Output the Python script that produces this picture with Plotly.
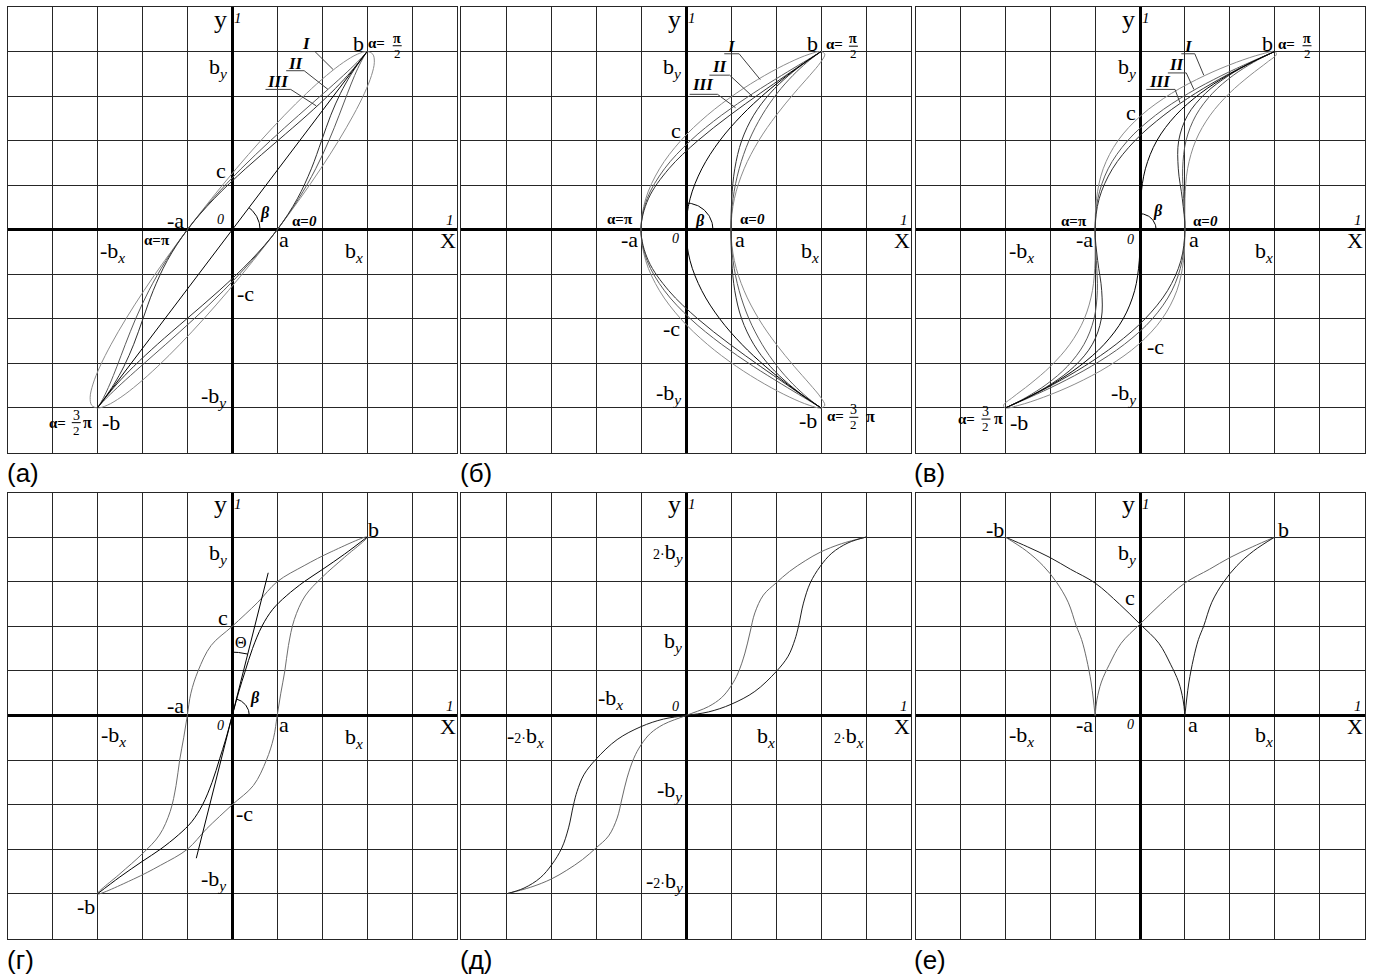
import numpy as np
import plotly.graph_objects as go

W, H = 1374, 980
SERIF = "Liberation Serif"
SANS = "Liberation Sans"
GRID = "#262626"

# page-pixel frames of the six grids: left, right, top, bottom
FRAMES = [
    (7.5, 457.0, 7.0, 452.5),
    (461.0, 911.0, 7.0, 452.5),
    (915.5, 1364.5, 7.0, 452.5),
    (7.5, 457.0, 492.5, 938.5),
    (461.0, 911.0, 492.5, 938.5),
    (915.5, 1364.5, 492.5, 938.5),
]
PANEL_TAGS = ["(а)", "(б)", "(в)", "(г)", "(д)", "(е)"]

# ---------------------------------------------------------------- data
# every coordinate is in grid cells; each axis runs from -5 to 5 cells

# ordinates of the loop points of panels а, б, в (-b -> a -> b -> -a -> -b)
LOOP_Y = [-4, -3.939, -3.759, -3.464, -3.064, -2.571, -2, -1.368, -0.695, 0,
          0.695, 1.368, 2, 2.571, 3.064, 3.464, 3.759, 3.939, 4,
          3.939, 3.759, 3.464, 3.064, 2.571, 2, 1.368, 0.695, 0,
          -0.695, -1.368, -2, -2.571, -3.064, -3.464, -3.759, -3.939, -4]
# ordinates of the middle curves of panels б, в (-b -> 0 -> b)
CENTER_Y = [-4, -3.939, -3.759, -3.464, -3.064, -2.571, -2, -1.368, -0.695, 0,
            0.695, 1.368, 2, 2.571, 3.064, 3.464, 3.759, 3.939, 4]

# panel (а)
A_LOOP_I = [-3.0, -2.78, -2.477, -2.098, -1.655, -1.162, -0.634, -0.086, 0.464,
            1.0, 1.506, 1.966, 2.366, 2.694, 2.941, 3.098, 3.161, 3.128, 3.0,
            2.78, 2.477, 2.098, 1.655, 1.162, 0.634, 0.086, -0.464, -1.0,
            -1.506, -1.966, -2.366, -2.694, -2.941, -3.098, -3.161, -3.128, -3.0]
A_LOOP_II = [-3.0, -2.949, -2.779, -2.473, -2.032, -1.478, -0.85, -0.196, 0.434,
             1.0, 1.476, 1.856, 2.15, 2.378, 2.564, 2.723, 2.859, 2.959, 3.0,
             2.949, 2.779, 2.473, 2.032, 1.478, 0.85, 0.196, -0.434, -1.0,
             -1.476, -1.856, -2.15, -2.378, -2.564, -2.723, -2.859, -2.959, -3.0]
A_LOOP_III = [-3.0, -2.954, -2.814, -2.567, -2.188, -1.664, -1.013, -0.293, 0.405,
              1.0, 1.447, 1.759, 1.987, 2.192, 2.408, 2.629, 2.824, 2.954, 3.0,
              2.954, 2.814, 2.567, 2.188, 1.664, 1.013, 0.293, -0.405, -1.0,
              -1.447, -1.759, -1.987, -2.192, -2.408, -2.629, -2.824, -2.954, -3.0]
A_CENTER_X = [-3.0, 3.0]
A_CENTER_Y = [-4.0, 4.0]

# panel (б)
B_LOOP_I = [3.0, 3.084, 2.991, 2.75, 2.403, 2.006, 1.616, 1.291, 1.075,
            1.0, 1.075, 1.291, 1.616, 2.006, 2.403, 2.75, 2.991, 3.084, 3.0,
            2.736, 2.307, 1.75, 1.117, 0.474, -0.116, -0.589, -0.895, -1.0,
            -0.895, -0.589, -0.116, 0.474, 1.117, 1.75, 2.307, 2.736, 3.0]
B_LOOP_II = [3.0, 2.915, 2.689, 2.375, 2.026, 1.69, 1.4, 1.181, 1.045,
             1.0, 1.045, 1.181, 1.4, 1.69, 2.026, 2.375, 2.689, 2.915, 3.0,
             2.905, 2.609, 2.125, 1.494, 0.79, 0.1, -0.479, -0.865, -1.0,
             -0.865, -0.479, 0.1, 0.79, 1.494, 2.125, 2.609, 2.905, 3.0]
B_LOOP_III = [3.0, 2.91, 2.654, 2.281, 1.87, 1.504, 1.237, 1.084, 1.016,
              1.0, 1.016, 1.084, 1.237, 1.504, 1.87, 2.281, 2.654, 2.91, 3.0,
              2.91, 2.644, 2.219, 1.65, 0.976, 0.263, -0.382, -0.836, -1.0,
              -0.836, -0.382, 0.263, 0.976, 1.65, 2.219, 2.644, 2.91, 3.0]
B_CENTER_X = [3, 2.91, 2.649, 2.25, 1.76, 1.24, 0.75, 0.351, 0.09, 0,
              0.09, 0.351, 0.75, 1.24, 1.76, 2.25, 2.649, 2.91, 3]

# panel (в)
V_LOOP_I = [-3.0, -2.691, -2.147, -1.449, -0.706, -0.031, 0.491, 0.82, 0.969,
            1.0, 1.001, 1.06, 1.241, 1.563, 1.992, 2.449, 2.831, 3.039, 3.0,
            2.691, 2.147, 1.449, 0.706, 0.031, -0.491, -0.82, -0.969, -1.0,
            -1.001, -1.06, -1.241, -1.563, -1.992, -2.449, -2.831, -3.039, -3.0]
V_LOOP_II = [-3.0, -2.86, -2.449, -1.824, -1.083, -0.347, 0.275, 0.71, 0.939,
             1.0, 0.971, 0.95, 1.025, 1.247, 1.615, 2.074, 2.529, 2.87, 3.0,
             2.86, 2.449, 1.824, 1.083, 0.347, -0.275, -0.71, -0.939, -1.0,
             -0.971, -0.95, -1.025, -1.247, -1.615, -2.074, -2.529, -2.87, -3.0]
V_LOOP_III = [-3.0, -2.865, -2.484, -1.918, -1.239, -0.533, 0.112, 0.613, 0.91,
              1.0, 0.942, 0.853, 0.862, 1.061, 1.459, 1.98, 2.494, 2.865, 3.0,
              2.865, 2.484, 1.918, 1.239, 0.533, -0.112, -0.613, -0.91, -1.0,
              -0.942, -0.853, -0.862, -1.061, -1.459, -1.98, -2.494, -2.865, -3.0]
V_CENTER_X = [-3, -2.865, -2.489, -1.949, -1.349, -0.797, -0.375, -0.12, -0.016, 0,
              0.016, 0.12, 0.375, 0.797, 1.349, 1.949, 2.489, 2.865, 3]

# panel (г)
G_LOOP_X = [-3, -2.2, -1.6, -1.0, -0.57, 0, 0.47, 0.76, 0.92, 1, 1.08, 1.17, 1.25,
            1.38, 1.62, 2.0, 2.5, 3,
            2.2, 1.6, 1.0, 0.57, 0, -0.47, -0.76, -0.92, -1, -1.08, -1.17, -1.25,
            -1.38, -1.62, -2.0, -2.5, -3]
G_LOOP_Y = [-4, -3.67, -3.36, -3.0, -2.54, -2.0, -1.57, -1.0, -0.5, 0, 0.5, 1.0, 1.57,
            2.15, 2.68, 3.1, 3.55, 4,
            3.67, 3.36, 3.0, 2.54, 2.0, 1.57, 1.0, 0.5, 0, -0.5, -1.0, -1.57,
            -2.15, -2.68, -3.1, -3.55, -4]
G_CENTER_X = [-3, -2.5, -2.0, -1.6, -1.2, -0.9, -0.66, -0.45, -0.28, -0.15, 0,
              0.15, 0.28, 0.45, 0.66, 0.9, 1.2, 1.6, 2.0, 2.5, 3]
G_CENTER_Y = [-4, -3.62, -3.27, -3.0, -2.68, -2.38, -2.0, -1.5, -0.97, -0.55, 0,
              0.55, 0.97, 1.5, 2.0, 2.38, 2.68, 3.0, 3.27, 3.62, 4]
G_TANGENT_X = [-0.8, 0.8]
G_TANGENT_Y = [-3.2, 3.2]

# panel (д)
D_S1_X = [-4.0, -3.45, -3.0, -2.65, -2.3, -2.0, -1.72, -1.53, -1.42, -1.31, -1.16, -1.0,
          -0.79, -0.5, 0, 0.5, 0.79, 1.0, 1.16, 1.31, 1.42, 1.53, 1.72, 2.0, 2.3,
          2.65, 3.0, 3.45, 4.0]
D_S1_Y = [-4.0, -3.85, -3.67, -3.47, -3.23, -2.97, -2.7, -2.3, -1.85, -1.4, -0.96, -0.66,
          -0.4, -0.2, 0, 0.2, 0.4, 0.66, 0.96, 1.4, 1.85, 2.3, 2.7, 2.97, 3.23,
          3.47, 3.67, 3.85, 4.0]
D_S2_X = [-4.0, -3.6, -3.24, -2.98, -2.76, -2.61, -2.5, -2.42, -2.27, -2.0, -1.53, -1.0,
          -0.5, 0, 0.5, 1.0, 1.53, 2.0, 2.27, 2.42, 2.5, 2.61, 2.76, 2.98, 3.24,
          3.6, 4.0]
D_S2_Y = [-4.0, -3.87, -3.64, -3.34, -2.97, -2.52, -2.0, -1.7, -1.33, -0.98, -0.54, -0.25,
          -0.08, 0, 0.08, 0.25, 0.54, 0.98, 1.33, 1.7, 2.0, 2.52, 2.97, 3.34, 3.64,
          3.87, 4.0]

# panel (е)
E_P_X = [-1, -0.96, -0.86, -0.68, -0.42, 0, 0.46, 1.0, 1.55, 2.0, 2.5, 3.0]
E_P_Y = [0, 0.35, 0.75, 1.15, 1.62, 2.05, 2.5, 2.97, 3.28, 3.54, 3.78, 4.0]
E_P2_X = [1, 0.96, 0.86, 0.68, 0.42, 0, -0.46, -1.0, -1.55, -2.0, -2.5, -3.0]
E_Q_X = [1, 1.04, 1.09, 1.19, 1.3, 1.42, 1.6, 1.86, 2.16, 2.53, 3.0]
E_Q_Y = [0, 0.37, 0.75, 1.27, 1.7, 2.01, 2.54, 2.99, 3.36, 3.69, 4.0]
E_Q2_X = [-1, -1.04, -1.09, -1.19, -1.3, -1.42, -1.6, -1.86, -2.16, -2.53, -3.0]

LOOP_COLORS = {"I": "#8c8c8c", "II": "#5a5a5a", "III": "#303030"}

# ---------------------------------------------------------------- helpers
fig = go.Figure()
annotations = []
shapes = []


def ref(i):
    return "" if i == 0 else str(i + 1)


def curve(i, xs, ys, color, width=1.0, spline=True):
    k = ref(i)
    fig.add_trace(go.Scatter(
        x=xs, y=ys, mode="lines", xaxis="x" + k, yaxis="y" + k,
        line=dict(color=color, width=width,
                  shape="spline" if spline else "linear", smoothing=1.0),
        hoverinfo="skip", showlegend=False))


def note(i, x, y, text, size=22, style="normal", weight="normal"):
    k = ref(i)
    annotations.append(dict(
        x=x, y=y, xref="x" + k, yref="y" + k, text=text, showarrow=False,
        xanchor="center", yanchor="middle",
        font=dict(family=SERIF, size=size, color="black",
                  style=style, weight=weight)))


def bar(i, x0, x1, y):
    k = ref(i)
    shapes.append(dict(type="line", xref="x" + k, yref="y" + k,
                       x0=x0, x1=x1, y0=y, y1=y,
                       line=dict(color="black", width=1)))


def frac(i, x, y, num, den, num_weight="normal"):
    note(i, x, y + 0.17, num, 14, weight=num_weight)
    note(i, x, y - 0.17, den, 13)
    bar(i, x - 0.1, x + 0.1, y)


def angle_arc(i, r, a0, a1):
    t = np.radians(np.linspace(a0, a1, 40))
    curve(i, r * np.cos(t), r * np.sin(t), "black", 1.0, spline=False)


def sub(base, s):
    return f"{base}<sub><i>{s}</i></sub>"


def alpha(i, x, y, text):
    note(i, x, y, text, 15, weight="bold")


def beta(i, x, y):
    note(i, x, y, "β", 16, style="italic", weight="bold")


def zero(i, x, y):
    note(i, x, y, "0", 14, style="italic")


# ---------------------------------------------------------------- curves
for name, xs in (("I", A_LOOP_I), ("II", A_LOOP_II), ("III", A_LOOP_III)):
    curve(0, xs, LOOP_Y, LOOP_COLORS[name])
curve(0, A_CENTER_X, A_CENTER_Y, "black", spline=False)

for name, xs in (("I", B_LOOP_I), ("II", B_LOOP_II), ("III", B_LOOP_III)):
    curve(1, xs, LOOP_Y, LOOP_COLORS[name])
curve(1, B_CENTER_X, CENTER_Y, "black")

for name, xs in (("I", V_LOOP_I), ("II", V_LOOP_II), ("III", V_LOOP_III)):
    curve(2, xs, LOOP_Y, LOOP_COLORS[name])
curve(2, V_CENTER_X, CENTER_Y, "black")

curve(3, G_LOOP_X, G_LOOP_Y, "#6e6e6e")
curve(3, G_CENTER_X, G_CENTER_Y, "black")
curve(3, G_TANGENT_X, G_TANGENT_Y, "black", spline=False)

curve(4, D_S1_X, D_S1_Y, "#6a6a6a")
curve(4, D_S2_X, D_S2_Y, "#1e1e1e")

curve(5, E_P_X, E_P_Y, "#6a6a6a")
curve(5, E_P2_X, E_P_Y, "#1e1e1e")
curve(5, E_Q_X, E_Q_Y, "#1e1e1e")
curve(5, E_Q2_X, E_Q_Y, "#6a6a6a")

# angle marks
angle_arc(0, 0.62, 0, 53.1)
angle_arc(1, 0.6, 0, 90)
angle_arc(2, 0.36, 0, 90)
angle_arc(3, 0.38, 0, 76)
angle_arc(3, 1.42, 76, 90)

# loop numbers with their leaders
ROMAN = {
    0: [("I", 1.66, 4.18, [1.50, 1.84, 2.24], [4.0, 4.0, 3.6]),
        ("II", 1.42, 3.74, [1.20, 1.60, 2.13], [3.57, 3.57, 3.15]),
        ("III", 1.02, 3.33, [0.74, 1.30, 1.87], [3.15, 3.15, 2.78])],
    1: [("I", 1.02, 4.11, [0.85, 1.18, 1.65], [3.95, 3.95, 3.37]),
        ("II", 0.76, 3.66, [0.52, 0.97, 1.47], [3.47, 3.47, 3.0]),
        ("III", 0.38, 3.25, [0.08, 0.70, 1.10], [3.04, 3.04, 2.74])],
    2: [("I", 1.09, 4.11, [0.92, 1.22, 1.42], [3.95, 3.95, 3.47]),
        ("II", 0.83, 3.70, [0.62, 1.03, 1.20], [3.52, 3.52, 3.15]),
        ("III", 0.45, 3.33, [0.14, 0.78, 0.89], [3.15, 3.15, 2.85])],
}
for i, items in ROMAN.items():
    for label, tx, ty, lx, ly in items:
        note(i, tx, ty, label, 17, style="italic", weight="bold")
        curve(i, lx, ly, "#404040", 1.0, spline=False)

# ---------------------------------------------------------------- labels
for i in range(6):
    note(i, -0.26, 4.72, "y", 26)
    note(i, 0.13, 4.75, "1", 15, style="italic")
    note(i, 4.85, 0.22, "1", 15, style="italic")
    note(i, 4.79, -0.25, "X", 22)

# (а)
note(0, 2.8, 4.19, "b")
note(0, -0.31, 3.62, sub("b", "y"))
note(0, -0.25, 1.32, "c")
note(0, -1.27, 0.2, "-a")
zero(0, -0.26, 0.24)
note(0, 1.16, -0.23, "a")
note(0, 2.71, -0.49, sub("b", "x"))
note(0, -2.66, -0.49, sub("-b", "x"))
note(0, 0.3, -1.43, "-c")
note(0, -0.41, -3.75, sub("-b", "y"))
note(0, -2.7, -4.33, "-b")
beta(0, 0.73, 0.37)
alpha(0, 1.61, 0.2, "α=<i>0</i>")
alpha(0, -1.68, -0.23, "α=π")
alpha(0, 3.21, 4.19, "α=")
frac(0, 3.67, 4.13, "π", "2", "bold")
alpha(0, -3.89, -4.33, "α=")
frac(0, -3.47, -4.33, "3", "2")
note(0, -3.22, -4.33, "π", 16, weight="bold")

# (б)
note(1, 2.8, 4.19, "b")
alpha(1, 3.3, 4.17, "α=")
frac(1, 3.72, 4.12, "π", "2", "bold")
note(1, -0.31, 3.62, sub("b", "y"))
note(1, -0.22, 2.23, "c")
alpha(1, -1.46, 0.24, "α=π")
note(1, -1.26, -0.23, "-a")
zero(1, -0.24, -0.19)
beta(1, 0.3, 0.2)
alpha(1, 1.47, 0.24, "α=<i>0</i>")
note(1, 1.21, -0.23, "a")
note(1, 2.75, -0.49, sub("b", "x"))
note(1, -0.33, -2.22, "-c")
note(1, -0.39, -3.68, sub("-b", "y"))
note(1, 2.71, -4.29, "-b")
alpha(1, 3.32, -4.19, "α=")
frac(1, 3.73, -4.21, "3", "2")
note(1, 4.1, -4.19, "π", 16, weight="bold")

# (в)
note(2, 2.83, 4.19, "b")
alpha(2, 3.27, 4.17, "α=")
frac(2, 3.72, 4.13, "π", "2", "bold")
note(2, -0.3, 3.62, sub("b", "y"))
note(2, -0.21, 2.63, "c")
alpha(2, -1.47, 0.2, "α=π")
note(2, -2.65, -0.49, sub("-b", "x"))
note(2, -1.24, -0.23, "-a")
zero(2, -0.21, -0.23)
beta(2, 0.39, 0.43)
alpha(2, 1.46, 0.2, "α=<i>0</i>")
note(2, 1.2, -0.23, "a")
note(2, 2.76, -0.49, sub("b", "x"))
note(2, 0.35, -2.63, "-c")
note(2, -0.36, -3.68, sub("-b", "y"))
alpha(2, -3.87, -4.24, "α=")
frac(2, -3.43, -4.25, "3", "2")
note(2, -3.16, -4.24, "π", 16, weight="bold")
note(2, -2.69, -4.33, "-b")

# (г)
note(3, 3.15, 4.16, "b")
note(3, -0.31, 3.62, sub("b", "y"))
note(3, -0.21, 2.2, "c")
note(3, 0.19, 1.64, "Θ", 16)
note(3, -1.26, 0.22, "-a")
beta(3, 0.5, 0.39)
zero(3, -0.27, -0.22)
note(3, 1.15, -0.21, "a")
note(3, -2.64, -0.46, sub("-b", "x"))
note(3, 2.71, -0.5, sub("b", "x"))
note(3, 0.28, -2.2, "-c")
note(3, -0.42, -3.69, sub("-b", "y"))
note(3, -3.25, -4.29, "-b")

# (д)
TWO = "<span style='font-size:14px'>2·</span>"
note(4, -0.4, 3.64, TWO + sub("b", "y"))
note(4, -0.28, 1.64, sub("b", "y"))
note(4, -1.67, 0.36, sub("-b", "x"))
zero(4, -0.23, 0.21)
note(4, -3.56, -0.48, "-" + TWO + sub("b", "x"))
note(4, 1.77, -0.48, sub("b", "x"))
note(4, 3.62, -0.48, TWO + sub("b", "x"))
note(4, -0.36, -1.69, sub("-b", "y"))
note(4, -0.48, -3.73, "-" + TWO + sub("b", "y"))

# (е)
note(5, -3.24, 4.18, "-b")
note(5, 3.19, 4.18, "b")
note(5, -0.28, 3.62, sub("b", "y"))
note(5, -0.23, 2.65, "c")
note(5, -2.63, -0.46, sub("-b", "x"))
note(5, -1.24, -0.21, "-a")
zero(5, -0.21, -0.21)
note(5, 1.19, -0.21, "a")
note(5, 2.76, -0.46, sub("b", "x"))

# panel tags under the grids
for i, (l, r, t, b) in enumerate(FRAMES):
    annotations.append(dict(
        x=(l - 3) / W, y=1 - (b + 21) / H, xref="paper", yref="paper",
        text=PANEL_TAGS[i], showarrow=False, xanchor="left", yanchor="middle",
        font=dict(family=SANS, size=26, color="black")))

# ---------------------------------------------------------------- layout
layout = dict(width=W, height=H, margin=dict(l=0, r=0, t=0, b=0),
              paper_bgcolor="white", plot_bgcolor="white",
              annotations=annotations, shapes=shapes, showlegend=False)
for i, (l, r, t, b) in enumerate(FRAMES):
    k = ref(i)
    common = dict(range=[-5, 5], tick0=0, dtick=1, showgrid=True,
                  gridcolor=GRID, gridwidth=1, zeroline=True,
                  zerolinecolor="black", zerolinewidth=3,
                  showticklabels=False, ticks="", showline=True,
                  linecolor=GRID, linewidth=1, mirror=True, fixedrange=True)
    layout["xaxis" + k] = dict(domain=[l / W, r / W], anchor="y" + k, **common)
    layout["yaxis" + k] = dict(domain=[1 - b / H, 1 - t / H], anchor="x" + k, **common)

fig.update_layout(**layout)
fig.write_html("out.html")
